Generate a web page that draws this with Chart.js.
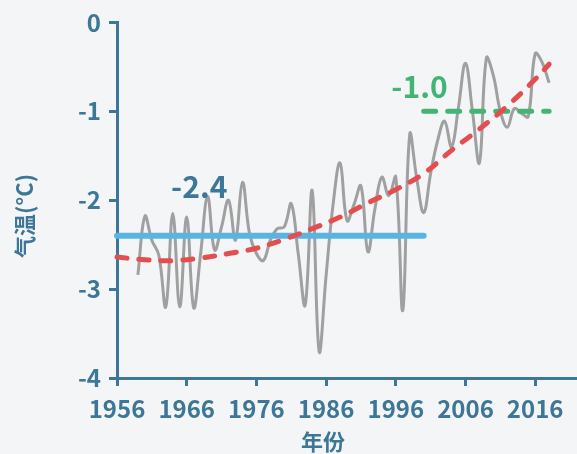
<!DOCTYPE html>
<html>
<head>
<meta charset="utf-8">
<script src="https://cdn.jsdelivr.net/npm/chart.js@4.4.0/dist/chart.umd.min.js"></script>
<style>
  html, body { margin: 0; padding: 0; background: #f4f5f7; }
  #wrap { width: 577px; height: 454px; }
</style>
</head>
<body>
<div id="wrap"><canvas id="tempChart"></canvas></div>
<script>
// annual mean temperature, 1959-2018
const years = [
  1959, 1960, 1961, 1962, 1963, 1964, 1965, 1966, 1967, 1968,
  1969, 1970, 1971, 1972, 1973, 1974, 1975, 1976, 1977, 1978,
  1979, 1980, 1981, 1982, 1983, 1984, 1985, 1986, 1987, 1988,
  1989, 1990, 1991, 1992, 1993, 1994, 1995, 1996, 1997, 1998,
  1999, 2000, 2001, 2002, 2003, 2004, 2005, 2006, 2007, 2008,
  2009, 2010, 2011, 2012, 2013, 2014, 2015, 2016, 2017, 2018
];
const temps = [
  -2.84, -2.18, -2.45, -2.62, -3.20, -2.15, -3.20, -2.19, -3.21, -2.60,
  -1.96, -2.56, -2.30, -2.00, -2.45, -1.80, -2.37, -2.60, -2.68, -2.45,
  -2.32, -2.30, -2.04, -2.60, -3.18, -1.89, -3.70, -2.85, -2.05, -1.58,
  -2.23, -2.05, -1.84, -2.58, -2.10, -1.74, -1.95, -1.74, -3.24, -1.26,
  -1.75, -2.14, -1.70, -1.33, -1.11, -1.40, -0.95, -0.46, -1.00, -1.58,
  -0.40, -0.60, -1.00, -1.18, -0.97, -1.02, -1.06, -0.35, -0.45, -0.68
];

// fitted trend
const trendYears = [1956, 1960, 1964, 1968, 1972, 1976, 1980, 1984, 1988, 1992, 1996, 2000, 2004, 2008, 2012, 2016, 2018];
const trendTemps = [-2.64, -2.67, -2.68, -2.65, -2.60, -2.54, -2.44, -2.32, -2.19, -2.03, -1.88, -1.70, -1.44, -1.20, -0.94, -0.64, -0.47];

// period means
const earlyYears = [1956, 2000];
const earlyMean = -2.4;
const lateYears = [2000, 2018];
const lateMean = -1.0;

const xTicks = [1956, 1966, 1976, 1986, 1996, 2006, 2016];
const yTicks = [0, -1, -2, -3, -4];

const axisColor = '#3d7797';
const grayColor = '#a0a0a0';
const blueColor = '#58b5e1';
const redColor = '#e34f4f';
const greenColor = '#42b574';
const font = '"Noto Sans CJK SC", "Noto Sans", sans-serif';

const toPoints = (xs, ys) => xs.map((x, i) => ({ x: x, y: ys[i] }));
const flat = (xs, v) => xs.map(x => ({ x: x, y: v }));

// value labels and axis titles
const textLayer = {
  id: 'textLayer',
  afterDraw(chart) {
    const { ctx, scales: { x, y } } = chart;
    ctx.save();
    ctx.textAlign = 'center';
    ctx.textBaseline = 'alphabetic';
    ctx.font = 'bold 30px ' + font;
    ctx.fillStyle = axisColor;
    ctx.fillText(earlyMean.toFixed(1), x.getPixelForValue(1967.8), y.getPixelForValue(-1.97));
    ctx.fillStyle = greenColor;
    ctx.fillText(lateMean.toFixed(1), x.getPixelForValue(1999.4), y.getPixelForValue(-0.85));

    ctx.fillStyle = axisColor;
    ctx.font = 'bold 22px ' + font;
    ctx.textBaseline = 'middle';
    ctx.fillText('年份', 323, 442);
    ctx.translate(25, 216);
    ctx.rotate(-Math.PI / 2);
    ctx.fillText('气温(°C)', 0, 0);
    ctx.restore();
  }
};

new Chart(document.getElementById('tempChart'), {
  type: 'line',
  data: {
    datasets: [
      {
        data: toPoints(trendYears, trendTemps),
        borderColor: redColor,
        borderWidth: 5,
        borderDash: [10, 12],
        borderCapStyle: 'round',
        tension: 0.4,
        pointRadius: 0,
        clip: false,
        order: 0
      },
      {
        data: flat(lateYears, lateMean),
        borderColor: greenColor,
        borderWidth: 5,
        borderDash: [12, 12],
        borderCapStyle: 'round',
        pointRadius: 0,
        clip: false,
        order: 1
      },
      {
        data: flat(earlyYears, earlyMean),
        borderColor: blueColor,
        borderWidth: 6,
        borderCapStyle: 'round',
        pointRadius: 0,
        clip: false,
        order: 2
      },
      {
        data: toPoints(years, temps),
        borderColor: grayColor,
        borderWidth: 3,
        tension: 0.4,
        pointRadius: 0,
        order: 3
      }
    ]
  },
  options: {
    responsive: true,
    maintainAspectRatio: false,
    animation: false,
    layout: { padding: { top: 21, right: 0, bottom: 0, left: 0 } },
    plugins: {
      legend: { display: false },
      tooltip: { enabled: false }
    },
    scales: {
      x: {
        type: 'linear',
        min: 1956,
        max: 2022,
        afterBuildTicks: (scale) => { scale.ticks = xTicks.map(v => ({ value: v })); },
        afterFit: (scale) => { scale.height = 76; },
        border: { color: axisColor, width: 3 },
        grid: { drawOnChartArea: false, drawTicks: true, tickLength: 8, color: axisColor, lineWidth: 3 },
        ticks: {
          color: axisColor,
          padding: 8,
          maxRotation: 0,
          autoSkip: false,
          font: { family: font, size: 24, weight: 'bold' },
          callback: (v) => String(v)
        }
      },
      y: {
        min: -4,
        max: 0,
        afterBuildTicks: (scale) => { scale.ticks = yTicks.map(v => ({ value: v })); },
        afterFit: (scale) => { scale.width = 117; },
        border: { color: axisColor, width: 3 },
        grid: { drawOnChartArea: false, drawTicks: true, tickLength: 8, color: axisColor, lineWidth: 3 },
        ticks: {
          color: axisColor,
          padding: 8,
          font: { family: font, size: 24, weight: 'bold' },
          callback: (v) => String(v)
        }
      }
    }
  },
  plugins: [textLayer]
});
</script>
</body>
</html>
